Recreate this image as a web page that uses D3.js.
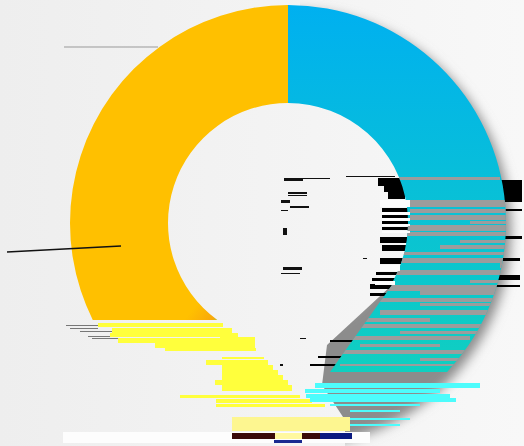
<!DOCTYPE html>
<html lang="en">
  <head>
    <meta charset="UTF-8" />
    <title>donut</title>
    <style>
      html,
      body {
        margin: 0;
        padding: 0;
        background: #f1f1f1;
      }
      svg {
        display: block;
      }
    </style>
  </head>

  <body>
    <div class="container"></div>

    <script src="https://d3js.org/d3.v7.min.js"></script>
    <script>
      // data (middle slice is lost in the corrupted part of the picture)
      const categories = ["blue", "green", "yellow"];
      const values = [46, 14, 40];
      const colors = ["url(#blueGrad)", "#92d050", "url(#yellowGrad)"];

      // leader lines left over from the labels
      const leaders = [
        { p: [[64, 47], [158, 47]], c: "#999", w: 1 },
        { p: [[7, 252], [121, 246]], c: "#111", w: 1.5 },
      ];

      // corrupted rows of the picture: [y, height, x0, x1]
      const grayRows = [
        [177, 3, 380, 500], [200, 7, 405, 510], [209, 4, 410, 510], [215, 5, 410, 510],
        [221, 3, 470, 510], [225, 6, 405, 510], [232, 4, 405, 510], [240, 3, 460, 510],
        [245, 4, 440, 510], [252, 3, 400, 510], [258, 5, 400, 510], [263, 5, 500, 510],
        [270, 5, 390, 510], [280, 3, 470, 510], [285, 6, 380, 510], [291, 4, 420, 510],
        [298, 4, 380, 500], [303, 3, 420, 500], [310, 5, 380, 500], [318, 4, 360, 430],
        [324, 4, 350, 500], [331, 3, 400, 480], [336, 4, 350, 470], [344, 3, 360, 440],
        [350, 4, 340, 470], [358, 3, 420, 460], [364, 2, 340, 460],
      ];
      const blackRows = [
        [178, 8, 378, 405], [186, 6, 384, 405], [192, 7, 388, 405], [208, 4, 382, 412],
        [215, 3, 382, 412], [221, 3, 382, 412], [227, 3, 382, 412], [237, 6, 380, 412],
        [245, 6, 382, 412], [258, 6, 380, 405], [272, 3, 376, 400], [278, 3, 372, 395],
        [285, 4, 370, 395], [293, 3, 370, 390], [180, 22, 495, 522], [209, 2, 495, 522],
        [236, 3, 495, 522], [258, 3, 495, 520], [275, 5, 495, 520], [285, 2, 495, 520],
        [284, 1, 370, 380], [340, 2, 330, 355], [356, 2, 318, 345], [364, 2, 310, 340],
      ];
      const whiteRows = [
        [200, 7, 380, 410], [212, 3, 382, 410], [218, 3, 382, 410], [224, 2, 382, 410],
        [231, 2, 382, 410], [265, 6, 380, 400], [281, 4, 375, 395],
      ];
      const fragments = [
        [178, 3, 284, 303], [178, 1, 303, 330], [176, 1, 346, 395], [192, 2, 288, 307],
        [195, 1, 288, 307], [200, 3, 281, 290], [206, 2, 290, 309], [210, 1, 281, 288],
        [228, 7, 283, 287], [267, 3, 283, 302], [273, 1, 281, 300], [258, 1, 363, 367],
        [338, 1, 300, 306], [364, 2, 280, 283],
      ];
      const yellowRows = [
        [323, 4, 98, 223], [328, 5, 112, 232], [333, 4, 110, 238], [338, 5, 118, 235],
        [337, 13, 220, 255], [343, 5, 155, 250], [348, 3, 165, 256], [357, 2, 222, 264],
        [360, 5, 206, 268], [365, 5, 222, 273], [370, 5, 222, 278], [375, 5, 222, 283],
        [380, 5, 215, 288], [385, 6, 222, 292], [395, 3, 180, 300], [399, 4, 216, 312],
        [404, 3, 216, 325],
      ];
      const cyanRows = [
        [383, 5, 315, 480], [389, 4, 305, 440], [394, 4, 306, 450], [398, 4, 310, 456],
        [404, 2, 330, 420], [410, 2, 350, 400], [418, 2, 345, 410], [424, 2, 340, 400],
      ];
      const darkLeftRows = [
        [325, 1, 66, 98], [328, 1, 70, 98], [331, 1, 80, 112], [336, 1, 88, 110], [338, 1, 92, 118],
      ];

      // svg
      const width = 524,
        height = 446;
      const svg = d3
        .select(".container")
        .append("svg")
        .attr("width", width)
        .attr("height", height);

      const defs = svg.append("defs");

      const bg = defs.append("linearGradient").attr("id", "bgGrad");
      bg.append("stop").attr("offset", "0").attr("stop-color", "#eeeeee");
      bg.append("stop").attr("offset", "1").attr("stop-color", "#f8f8f8");

      const blueGrad = defs
        .append("linearGradient")
        .attr("id", "blueGrad")
        .attr("gradientUnits", "userSpaceOnUse")
        .attr("x1", 0)
        .attr("y1", -218)
        .attr("x2", 0)
        .attr("y2", 150);
      blueGrad.append("stop").attr("offset", "0").attr("stop-color", "#00b0f0");
      blueGrad.append("stop").attr("offset", "1").attr("stop-color", "#10cfc0");

      const yellowGrad = defs
        .append("linearGradient")
        .attr("id", "yellowGrad")
        .attr("gradientUnits", "userSpaceOnUse")
        .attr("x1", -90)
        .attr("y1", 80)
        .attr("x2", -68)
        .attr("y2", 98);
      yellowGrad.append("stop").attr("offset", "0").attr("stop-color", "#ffc000");
      yellowGrad.append("stop").attr("offset", "0.75").attr("stop-color", "#f9a80a");
      yellowGrad.append("stop").attr("offset", "1").attr("stop-color", "#92d050");

      defs
        .append("filter")
        .attr("id", "blur")
        .attr("x", "-20%")
        .attr("y", "-20%")
        .attr("width", "140%")
        .attr("height", "140%")
        .append("feGaussianBlur")
        .attr("stdDeviation", 6);

      svg
        .append("rect")
        .attr("width", width)
        .attr("height", height)
        .attr("fill", "url(#bgGrad)");

      // donut
      const cx = 288,
        cy = 223;
      const slices = d3.pie().sort(null)(values);
      const arc = d3.arc().innerRadius(120).outerRadius(218);
      const shadowArc = d3.arc().innerRadius(100).outerRadius(218);

      // the hole runs on as a straight tear below the right side
      defs.append("clipPath").attr("id", "tear")
        .append("polygon")
        .attr("points", "288,0 524,0 524,372 330,372 392,285 288,223");
      defs.append("clipPath").attr("id", "shadowTear")
        .append("polygon")
        .attr("points", "300,0 524,0 524,446 345,446 345,420 322,385 327,345 392,285 420,223 400,120 300,40");
      defs.append("clipPath").attr("id", "top320")
        .append("rect").attr("width", width).attr("height", 320);
      defs.append("clipPath").attr("id", "ringClip")
        .append("path")
        .attr("transform", `translate(${cx},${cy})`)
        .attr("d", arc(slices[0]));

      const rows = (parent, list, color) =>
        parent
          .append("g")
          .selectAll("rect")
          .data(list)
          .join("rect")
          .attr("x", (d) => d[2])
          .attr("y", (d) => d[0])
          .attr("width", (d) => d[3] - d[2])
          .attr("height", (d) => d[1])
          .attr("fill", color);

      // shadow of the blue slice
      svg
        .append("g")
        .attr("clip-path", "url(#shadowTear)")
        .append("path")
        .attr("transform", `translate(${cx + 5},${cy + 6})`)
        .attr("d", shadowArc({ startAngle: slices[0].startAngle, endAngle: slices[0].endAngle + 0.3 }))
        .attr("fill", "#8c8c8c")
        .attr("filter", "url(#blur)");

      rows(svg, blackRows, "#000");

      svg
        .append("g")
        .attr("clip-path", "url(#tear)")
        .append("path")
        .attr("transform", `translate(${cx},${cy})`)
        .attr("d", arc(slices[0]))
        .attr("fill", colors[0]);

      svg
        .append("g")
        .attr("clip-path", "url(#top320)")
        .append("g")
        .attr("transform", `translate(${cx},${cy})`)
        .selectAll("path")
        .data(slices.slice(1))
        .join("path")
        .attr("d", arc)
        .attr("fill", (d, i) => colors[i + 1])
        .attr("data-name", (d, i) => categories[i + 1]);

      // gray rows only inside the blue slice
      rows(
        svg.append("g").attr("clip-path", "url(#tear)").append("g").attr("clip-path", "url(#ringClip)"),
        grayRows,
        "#9c9c9c"
      );
      rows(svg, whiteRows, "#fdfdfd");
      rows(svg, fragments, "#111");

      // lower part of the picture
      rows(svg, darkLeftRows, "#777");
      rows(svg, yellowRows, "#ffff3c");
      rows(svg, cyanRows, "#4dfcfc");
      svg.append("rect").attr("x", 63).attr("y", 432).attr("width", 307).attr("height", 11).attr("fill", "#fdfdfd");
      svg.append("rect").attr("x", 232).attr("y", 417).attr("width", 118).attr("height", 14).attr("fill", "#fdf690");
      svg.append("rect").attr("x", 232).attr("y", 433).attr("width", 120).attr("height", 6).attr("fill", "#3a0a0a");
      svg.append("rect").attr("x", 275).attr("y", 433).attr("width", 27).attr("height", 6).attr("fill", "#fff8a0");
      svg.append("rect").attr("x", 320).attr("y", 433).attr("width", 32).attr("height", 6).attr("fill", "#0a1a80");
      svg.append("rect").attr("x", 274).attr("y", 440).attr("width", 28).attr("height", 3).attr("fill", "#1a2a90");

      // leaders
      const line = d3.line();
      svg
        .append("g")
        .selectAll("path")
        .data(leaders)
        .join("path")
        .attr("d", (d) => line(d.p))
        .attr("fill", "none")
        .attr("stroke", (d) => d.c)
        .attr("stroke-width", (d) => d.w);
    </script>
  </body>
</html>
